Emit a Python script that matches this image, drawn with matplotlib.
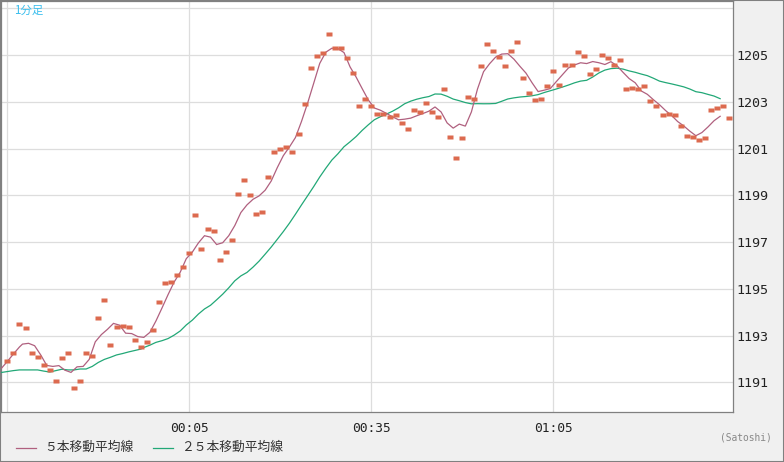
import numpy as np
import pandas as pd
import matplotlib
matplotlib.use("Agg")
import matplotlib.pyplot as plt
from matplotlib.path import Path
from matplotlib.patches import Rectangle
from matplotlib.lines import Line2D

# ---------------- data ----------------
# one price dot per minute, first dot at 23:35
prices = [
    1191.90, 1192.24, 1193.48, 1193.31, 1192.24, 1192.07, 1191.73, 1191.52, 1191.05, 1192.03,
    1192.24, 1190.75, 1191.05, 1192.24, 1192.12, 1193.74, 1194.51, 1192.59, 1193.36, 1193.40,
    1193.36, 1192.80, 1192.50, 1192.72, 1193.23, 1194.43, 1195.24, 1195.28, 1195.58, 1195.92,
    1196.52, 1198.14, 1196.69, 1197.54, 1197.46, 1196.22, 1196.56, 1197.07, 1199.04, 1199.64,
    1199.00, 1198.19, 1198.27, 1199.77, 1200.85, 1200.97, 1201.05, 1200.84, 1201.61, 1202.89,
    1204.43, 1204.94, 1205.07, 1205.88, 1205.28, 1205.28, 1204.86, 1204.22, 1202.81, 1203.10,
    1202.81, 1202.46, 1202.49, 1202.33, 1202.42, 1202.08, 1201.82, 1202.63, 1202.55, 1202.93,
    1202.55, 1202.33, 1203.53, 1201.48, 1200.58, 1201.44, 1203.19, 1203.10, 1204.52, 1205.46,
    1205.16, 1204.90, 1204.52, 1205.16, 1205.54, 1204.00, 1203.36, 1203.06, 1203.10, 1203.66,
    1204.30, 1203.70, 1204.56, 1204.56, 1205.11, 1204.94, 1204.17, 1204.39, 1204.99, 1204.86,
    1204.56, 1204.77, 1203.53, 1203.57, 1203.53, 1203.66, 1203.02, 1202.81, 1202.42, 1202.46,
    1202.42, 1201.95, 1201.52, 1201.48, 1201.35, 1201.44, 1202.63, 1202.72, 1202.81, 1202.29,
]
# moving-average values visible at the left edge (computed from earlier, unseen minutes)
ma5_head = [1191.59, 1191.89, 1192.21, 1192.51]
ma25_head = [1191.42, 1191.46, 1191.50, 1191.53, 1191.53, 1191.53, 1191.53, 1191.48,
             1191.44, 1191.50, 1191.56, 1191.53, 1191.53, 1191.57, 1191.57, 1191.68,
             1191.85, 1191.98, 1192.07, 1192.17, 1192.23, 1192.30, 1192.36, 1192.42]

x_tick_labels = ["", "00:05", "00:35", "01:05"]
y_ticks = [1191, 1193, 1195, 1197, 1199, 1201, 1203, 1205, 1207]
y_tick_labels = ["1191", "1193", "1195", "1197", "1199", "1201", "1203", "1205", ""]
legend_labels = ["５本移動平均線", "２５本移動平均線"]
title_text = "1分足"
unit_text = "(Satoshi)"

# ---------------- styles ----------------
C_MA5 = "#b0607f"
C_MA25 = "#22a877"
C_DOT = "#dc6a4f"
C_GRID = "#dddddd"
C_BORDER = "#808080"
MONO = ["DejaVu Sans Mono"]
CJK = ["Noto Sans CJK JP", "DejaVu Sans"]

W, H = 784, 462
fig = plt.figure(figsize=(W / 100, H / 100), dpi=100, facecolor="#f0f0f0")
ax = fig.add_axes([1 / W, (H - 412) / H, 732 / W, 411 / H])
ax.set_facecolor("white")

n = len(prices)
t = np.arange(n)
s = pd.Series(prices)
lag = 1.5  # moving averages are drawn slightly left of the dots

ma5 = s.rolling(5).mean().to_numpy()
ma25 = s.rolling(25).mean().to_numpy()

x5 = np.concatenate([np.arange(len(ma5_head)) - 1, t[4:] - lag])
y5 = np.concatenate([ma5_head, ma5[4:]])
x25 = np.concatenate([np.arange(len(ma25_head)) - 1, t[24:] - lag])
y25 = np.concatenate([ma25_head, ma25[24:]])

ax.plot(x25, y25, color=C_MA25, lw=0.9, zorder=3, solid_joinstyle="miter")
ax.plot(x5, y5, color=C_MA5, lw=0.9, zorder=3, solid_joinstyle="miter")

rect = Path([(-1, -0.6), (1, -0.6), (1, 0.6), (-1, 0.6), (-1, -0.6)],
            [Path.MOVETO, Path.LINETO, Path.LINETO, Path.LINETO, Path.CLOSEPOLY])
ax.plot(t, prices, ls="none", marker=rect, ms=3.7, mfc=C_DOT, mec="none", zorder=4)

# axes ranges
ax.set_xlim(-1.04, 119.62)
ax.set_ylim(1189.73, 1207.31)

ax.set_xticks([0, 30, 60, 90])
ax.set_xticklabels(x_tick_labels, family=MONO, fontsize=9.3, color="#222222")
ax.set_yticks(y_ticks)
ax.set_yticklabels(y_tick_labels, family=MONO, fontsize=9.6, color="#222222")
ax.yaxis.tick_right()
ax.tick_params(axis="y", length=0, pad=2.5)
ax.tick_params(axis="x", length=0, pad=7)
ax.grid(True, color=C_GRID, lw=0.9, zorder=0)
ax.set_axisbelow(True)
for sp in ax.spines.values():
    sp.set_color(C_BORDER)
    sp.set_linewidth(0.9)

# title label inside plot
fig.text(14 / W, 1 - 10.5 / H, title_text, color="#3cbfee", fontsize=8.3,
         va="center", ha="left", family=CJK)

# legend
ly = 1 - 447.5 / H
fig.add_artist(Line2D([16 / W, 36 / W], [ly, ly], color=C_MA5, lw=0.9))
fig.text(44 / W, ly, legend_labels[0], fontsize=9.2, va="center", ha="left",
         color="#333333", family=CJK)
fig.add_artist(Line2D([153 / W, 173 / W], [ly, ly], color=C_MA25, lw=0.9))
fig.text(181 / W, ly, legend_labels[1], fontsize=9.2, va="center", ha="left",
         color="#333333", family=CJK)

# unit
fig.text(772 / W, 1 - 437.7 / H, unit_text, fontsize=6.9, va="center", ha="right",
         color="#888888", family=MONO)

# outer border
fig.patches.append(Rectangle((0, 0), 1, 1, transform=fig.transFigure, fill=False,
                             edgecolor=C_BORDER, lw=1.5))

fig.savefig("out.png", dpi=100, facecolor=fig.get_facecolor())
